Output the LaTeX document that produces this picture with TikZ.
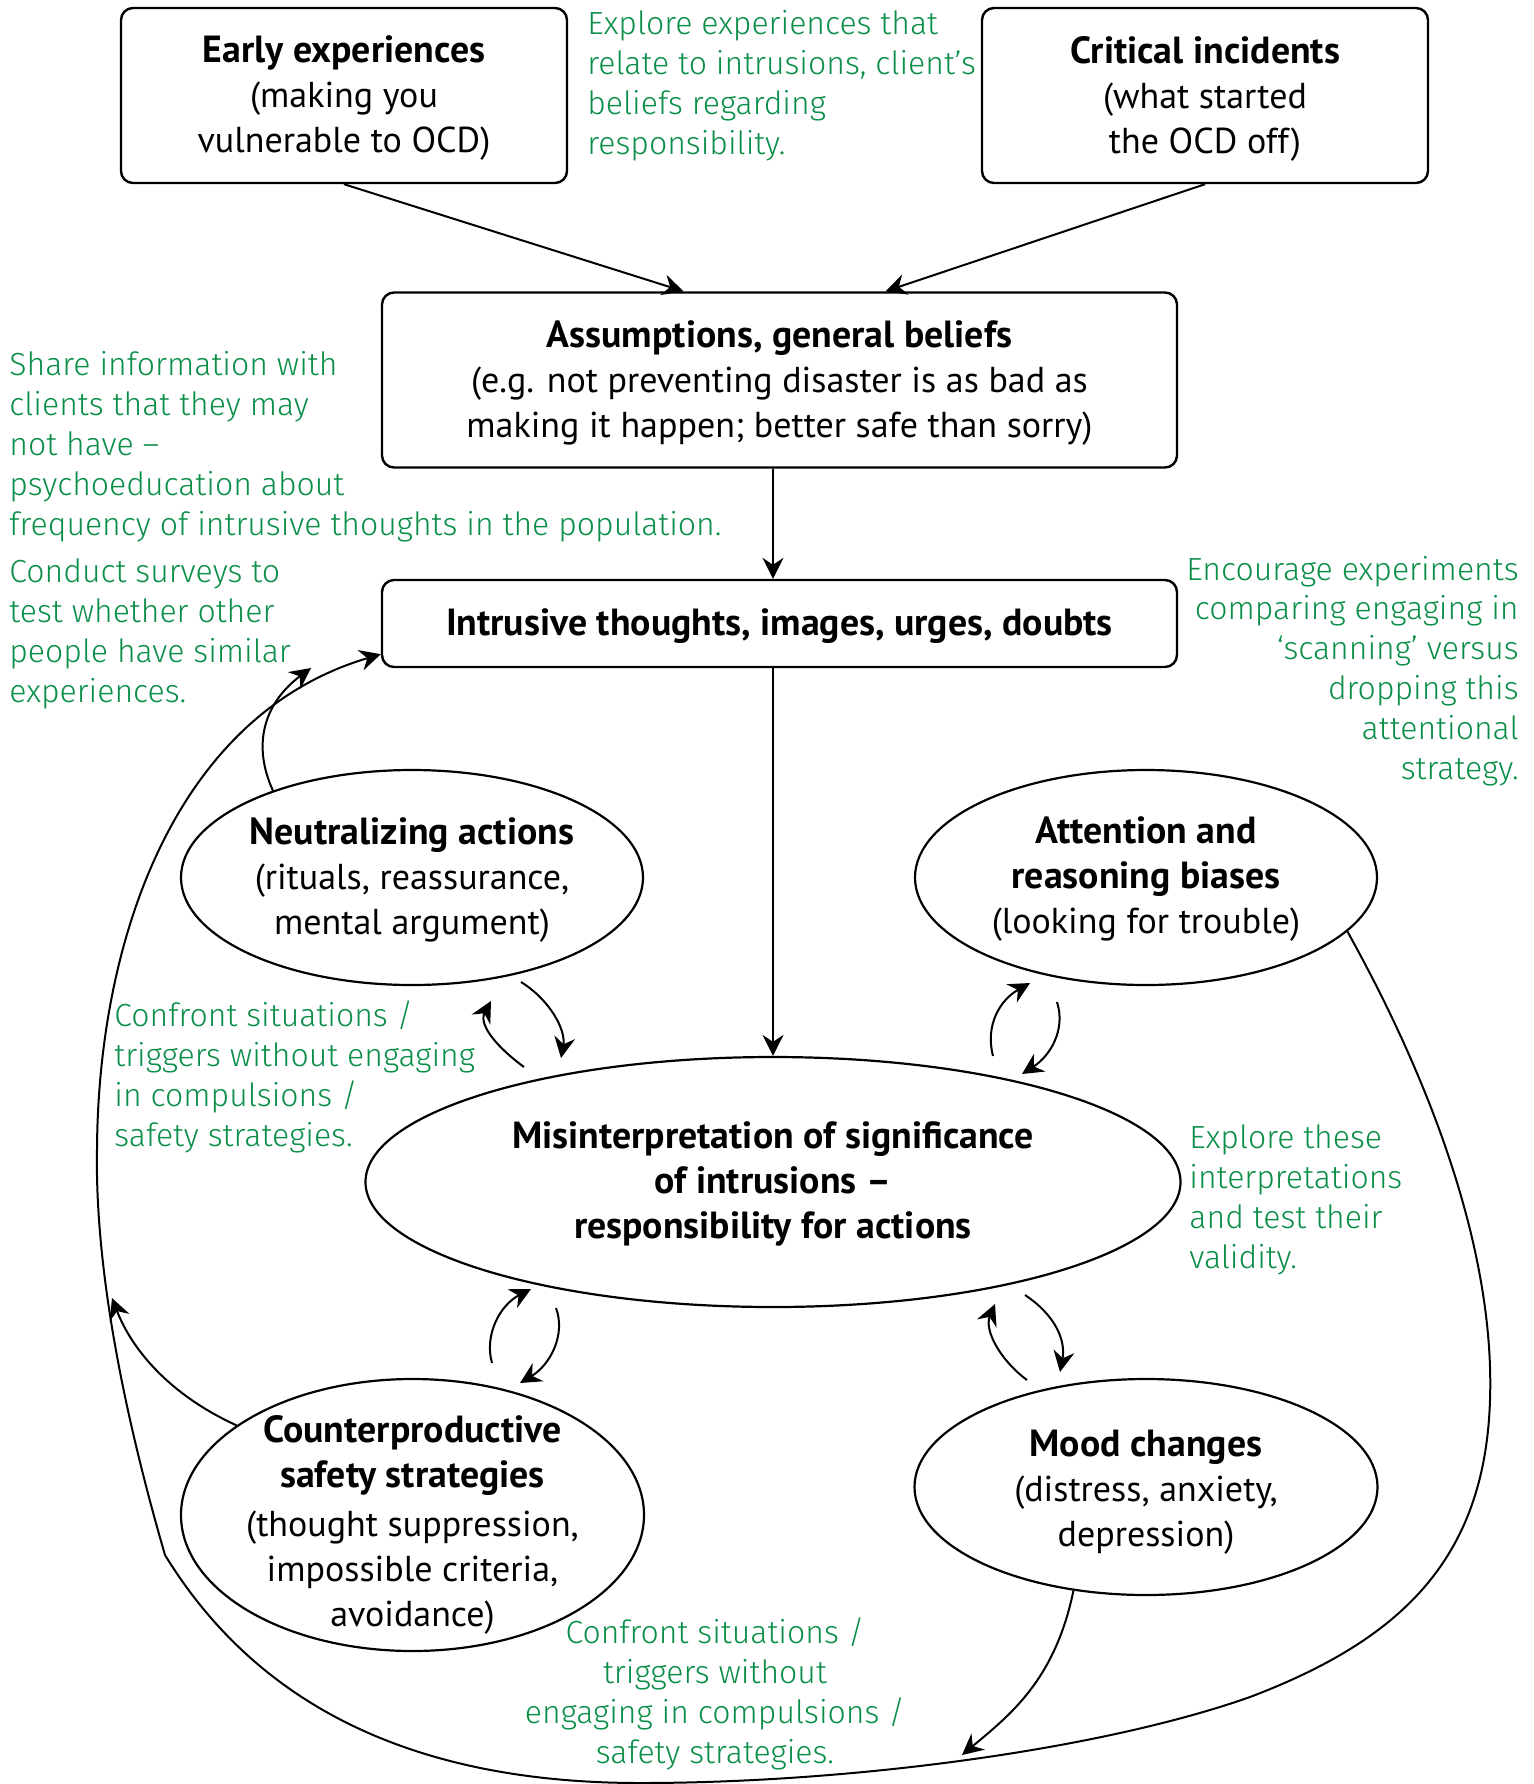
\documentclass[tikz,border=0pt]{standalone}
\usepackage{fontspec}
\setmainfont{PT Sans}
\newfontfamily\hand{Fira Sans Light}
\usetikzlibrary{arrows.meta,shapes.geometric,calc}
\definecolor{hgreen}{RGB}{10,142,72}
\newcommand\boldline[1]{{\fontsize{18.9}{22.5}\selectfont\bfseries #1}}
\begin{document}
\begin{tikzpicture}[x=0.5pt,y=-0.5pt,
  box/.style={draw, line width=1.2pt, rounded corners=6pt, align=center, inner sep=0pt, font=\fontsize{18}{22.5}\selectfont},
  ell/.style={draw, ellipse, line width=1.1pt, inner sep=0pt},
  lbl/.style={align=center, inner sep=0pt, font=\fontsize{18}{22.5}\selectfont},
  note/.style={text=hgreen, inner sep=0pt, font=\hand\fontsize{16}{19.9}\selectfont},
  arr/.style={-{Stealth[length=10.5pt,width=10.5pt,inset=3.5pt]}, line width=1pt}]
\useasboundingbox (0,0) rectangle (1533,1784);

% boxes
\node[box, minimum width=223pt, minimum height=87.5pt] (early) at (344,95.5) {};
\node[lbl] at ([yshift=-1.5pt]early.center) {\boldline{Early experiences}\\(making you\\vulnerable to OCD)};
\node[box, minimum width=223pt, minimum height=87.5pt] (crit) at (1205,95.5) {};
\node[lbl] at ([yshift=-1.5pt]crit.center) {\boldline{Critical incidents}\\(what started\\the OCD off)};
\node[box, minimum width=397.5pt, minimum height=87.5pt] (assump) at (779.5,380) {};
\node[lbl] at ([yshift=-1.5pt]assump.center) {\boldline{Assumptions, general beliefs}\\(e.g. not preventing disaster is as bad as\\making it happen; better safe than sorry)};
\node[box, minimum width=397.5pt, minimum height=43.5pt] (intr) at (779.5,623.5) {};
\node[lbl] at ([yshift=-1.5pt]intr.center) {\boldline{Intrusive thoughts, images, urges, doubts}};

% ellipses
\node[ell, minimum width=231pt, minimum height=107.5pt] (neut) at (412,877.5) {};
\node[lbl] at ([yshift=-1.5pt]neut.center) {\boldline{Neutralizing actions}\\(rituals, reassurance,\\mental argument)};
\node[ell, minimum width=231pt, minimum height=107.5pt] (attn) at (1146,877.5) {};
\node[lbl] at ([yshift=-1pt]attn.center) {\boldline{Attention and}\\\boldline{reasoning biases}\\(looking for trouble)};
\node[ell, minimum width=407.5pt, minimum height=125pt] (mis) at (773,1182) {};
\node[lbl] at ([yshift=-1pt]mis.center) {\boldline{Misinterpretation of significance}\\\boldline{of intrusions –}\\\boldline{responsibility for actions}};
\node[ell, minimum width=231.5pt, minimum height=136pt] (coun) at (412.5,1515) {};
\node[lbl] at ([yshift=-5pt]coun.center) {\boldline{Counterproductive}\\\boldline{safety strategies}\\[2pt](thought suppression,\\impossible criteria,\\avoidance)};
\node[ell, minimum width=231.5pt, minimum height=108pt] (mood) at (1146,1487) {};
\node[lbl] at ([yshift=-2.5pt]mood.center) {\boldline{Mood changes}\\(distress, anxiety,\\depression)};

% green notes (anchored at the baseline of their last line)
\node[note, anchor=base west, align=left] (n1) at (587,154) {Explore experiences that\\relate to intrusions, client’s\\beliefs regarding\\responsibility.};
\node[note, anchor=base west, align=left] (n2) at (9,535) {Share information with\\clients that they may\\not have –\\psychoeducation about\\frequency of intrusive thoughts in the population.};
\node[note, anchor=base west, align=left] (n3) at (9,702) {Conduct surveys to\\test whether other\\people have similar\\experiences.};
\node[note, anchor=base east, align=right] (n4) at (1519,779) {Encourage experiments\\comparing engaging in\\‘scanning’ versus\\dropping this\\attentional\\strategy.};
\node[note, anchor=base west, align=left] (n5) at (114,1146) {Confront situations /\\triggers without engaging\\in compulsions /\\safety strategies.};
\node[note, anchor=base west, align=left] (n6) at (1189,1268) {Explore these\\interpretations\\and test their\\validity.};
\node[note, anchor=base, align=center] (n7) at (715,1763) {Confront situations /\\triggers without\\engaging in compulsions /\\safety strategies.};

% straight arrows
\draw[arr] (early.south) -- ([xshift=-48pt]assump.north);
\draw[arr] (crit.south) -- ([xshift=53pt]assump.north);
\draw[arr] (assump.south -| mis.north) -- (intr.north -| mis.north);
\draw[arr] (intr.south -| mis.north) -- (mis.north);

% paired arrows
\coordinate (a1s) at (524,1067); \coordinate (a1e) at (491,1001);
\coordinate (a2s) at (521,982);  \coordinate (a2e) at (561,1058);
\draw[arr] (a1s) .. controls (498,1048) and (478,1025) .. (a1e);
\draw[arr] (a2s) .. controls (550,1000) and (566,1030) .. (a2e);

\coordinate (b1s) at (993,1056); \coordinate (b1e) at (1030,983);
\coordinate (b2s) at (1057,1002); \coordinate (b2e) at (1022,1074);
\draw[arr] (b1s) .. controls (985,1025) and (1000,1000) .. (b1e);
\draw[arr] (b2s) .. controls (1066,1030) and (1050,1056) .. (b2e);

\coordinate (c1s) at (492,1363); \coordinate (c1e) at (531,1289);
\coordinate (c2s) at (556,1308); \coordinate (c2e) at (520,1383);
\draw[arr] (c1s) .. controls (484,1335) and (500,1305) .. (c1e);
\draw[arr] (c2s) .. controls (566,1335) and (550,1365) .. (c2e);

\coordinate (d1s) at (1027,1380); \coordinate (d1e) at (995,1304);
\coordinate (d2s) at (1025,1295); \coordinate (d2e) at (1060,1372);
\draw[arr] (d1s) .. controls (1000,1360) and (984,1330) .. (d1e);
\draw[arr] (d2s) .. controls (1055,1315) and (1066,1340) .. (d2e);

% big loop
\draw[arr] (attn.-15) .. controls (1430,1080) and (1495,1250) .. (1490,1400)
  .. controls (1485,1560) and (1400,1640) .. (1250,1697)
  .. controls (1100,1750) and (850,1783) .. (640,1783)
  .. controls (420,1783) and (260,1710) .. (165,1555)
  .. controls (120,1400) and (95,1260) .. (97,1150)
  .. controls (98,940) and (175,715) .. ([yshift=7pt]intr.south west);

% arrows joining the loop
\coordinate (jn) at (311,668);
\coordinate (jc) at (112,1298);
\coordinate (jm) at (962,1755);
\draw[arr] (neut.148) .. controls (250,740) and (268,700) .. (jn);
\draw[arr] (coun.153) .. controls (170,1395) and (132,1350) .. (jc);
\draw[arr] (mood.-125) .. controls (1055,1680) and (1010,1715) .. (jm);
\end{tikzpicture}
\end{document}
